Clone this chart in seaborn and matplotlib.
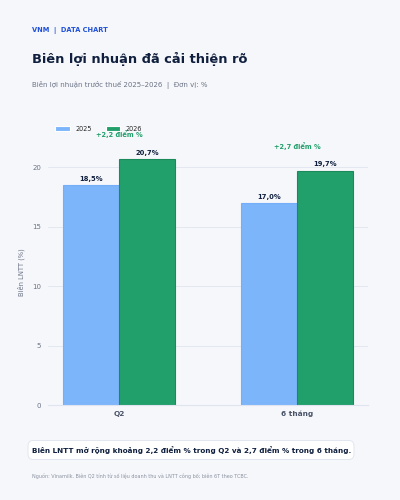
import matplotlib
matplotlib.use("Agg")
import matplotlib.pyplot as plt
from matplotlib.patches import FancyBboxPatch
import seaborn as sns
import pandas as pd

periods = ["Q2", "6 tháng"]
years = ["2025", "2026"]
margin_2025 = [18.5, 17.0]
margin_2026 = [20.7, 19.7]
deltas = ["+2,2 điểm %", "+2,7 điểm %"]

BG = "#f6f7fb"
BLUE = "#7db5fb"
GREEN = "#22a06b"
DARK = "#0f1f3d"
GRAY = "#6b7385"

df = pd.DataFrame({
    "period": periods * 2,
    "year": [years[0]] * 2 + [years[1]] * 2,
    "margin": margin_2025 + margin_2026,
})

sns.set_style("whitegrid")
plt.rcParams["font.family"] = ["DejaVu Sans"]

fig = plt.figure(figsize=(4, 5), dpi=100, facecolor=BG)
ax = fig.add_axes([0.12, 0.19, 0.80, 0.53])
ax.set_facecolor(BG)

sns.barplot(data=df, x="period", y="margin", hue="year",
            palette=[BLUE, GREEN], width=0.63, gap=0, ax=ax,
            linewidth=0.8, saturation=1)

edge = {BLUE: "#74aef8", GREEN: "#1a8a5a"}
for cont, col in zip(ax.containers, [BLUE, GREEN]):
    for bar in cont:
        bar.set_edgecolor(edge[col])
    ax.bar_label(cont, labels=[f"{v:.1f}".replace(".", ",") + "%" for v in cont.datavalues],
                 padding=2.5, fontsize=4.9, fontweight="bold", color=DARK)

for i, txt in enumerate(deltas):
    top = max(margin_2025[i], margin_2026[i])
    ax.text(i, top + 2.1, txt, ha="center", va="center", fontsize=4.8,
            fontweight="bold", color=GREEN, clip_on=False, zorder=5)

ax.set_ylim(0, 22.3)
ax.set_xlim(-0.4, 1.4)
ax.set_yticks([0, 5, 10, 15, 20])
ax.grid(axis="y", color="#e3e7f0", linewidth=0.7)
ax.grid(axis="x", visible=False)
for s in ["top", "right", "left"]:
    ax.spines[s].set_visible(False)
ax.spines["bottom"].set_color("#dfe4ee")
ax.spines["bottom"].set_linewidth(0.8)
ax.tick_params(axis="y", labelsize=5.0, colors=GRAY, length=3, width=0.5, pad=2)
ax.tick_params(axis="x", labelsize=5.3, colors="#4a5468", length=2, pad=2)
for lbl in ax.get_xticklabels():
    lbl.set_fontweight("bold")
ax.set_xlabel("")
ax.set_ylabel("Biên LNTT (%)", fontsize=4.9, color=GRAY, labelpad=5)

leg = ax.legend(loc="lower left", bbox_to_anchor=(0.015, 1.022), ncol=2,
                frameon=False, fontsize=4.7, handlelength=2.2, handleheight=0.7,
                handletextpad=0.8, columnspacing=2.2, borderaxespad=0)
leg.set_zorder(1)

fig.text(0.08, 0.94, "VNM  |  DATA CHART", fontsize=4.8, fontweight="bold",
         color="#1d4fd8", va="center")
fig.text(0.08, 0.883, "Biên lợi nhuận đã cải thiện rõ", fontsize=9.4,
         fontweight="bold", color=DARK, va="center")
fig.text(0.08, 0.83, "Biên lợi nhuận trước thuế 2025–2026  |  Đơn vị: %",
         fontsize=5.0, color=GRAY, va="center")

box = FancyBboxPatch((0.07, 0.081), 0.815, 0.038, transform=fig.transFigure,
                     boxstyle="round,pad=0,rounding_size=0.012",
                     facecolor="white", edgecolor="#e2e6ee", linewidth=0.7)
fig.patches.append(box)
fig.text(0.08, 0.1, "Biên LNTT mở rộng khoảng 2,2 điểm % trong Q2 và 2,7 điểm % trong 6 tháng.",
         fontsize=5.2, fontweight="bold", color=DARK, va="center")
fig.text(0.08, 0.048, "Nguồn: Vinamilk. Biên Q2 tính từ số liệu doanh thu và LNTT công bố; biên 6T theo TCBC.",
         fontsize=3.5, color="#8a91a0", va="center")

fig.savefig("out.png", dpi=100, facecolor=BG)
